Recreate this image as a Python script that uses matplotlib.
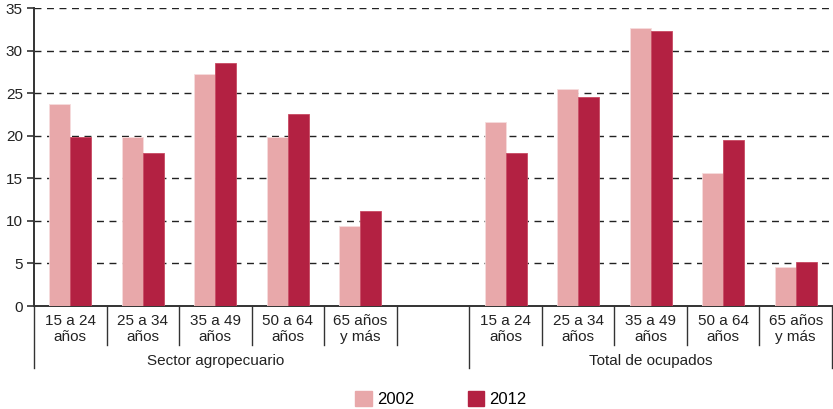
import matplotlib
matplotlib.use('Agg')
import matplotlib.pyplot as plt
import matplotlib.transforms as mtransforms
from matplotlib.patches import Patch

plt.rcParams['font.family'] = ['Liberation Sans Narrow', 'Liberation Sans', 'DejaVu Sans']

categorias = ['15 a 24\naños', '25 a 34\naños', '35 a 49\naños', '50 a 64\naños', '65 años\ny más']
grupos = ['Sector agropecuario', 'Total de ocupados']
agro_2002 = [23.7, 19.8, 27.3, 19.8, 9.4]
agro_2012 = [19.8, 18.0, 28.5, 22.5, 11.2]
total_2002 = [21.6, 25.5, 32.6, 15.6, 4.6]
total_2012 = [18.0, 24.6, 32.3, 19.5, 5.2]

c2002 = '#E8A8AA'
c2012 = '#B32142'
gris = '#333333'

fig = plt.figure(figsize=(8.33, 4.09), dpi=100)
ax = fig.add_axes([34 / 833, 103 / 409, 798 / 833, 298 / 409])

w = 0.29
slots = list(range(5)) + list(range(6, 11))
v2002 = agro_2002 + total_2002
v2012 = agro_2012 + total_2012
xs = [s + 0.5 for s in slots]
ax.bar([x - w / 2 for x in xs], v2002, width=w, color=c2002, edgecolor='#f6dcdd', linewidth=0.6, zorder=3)
ax.bar([x + w / 2 for x in xs], v2012, width=w, color=c2012, edgecolor='#c84a62', linewidth=0.6, zorder=3)

ax.set_xlim(0, 11)
ax.set_ylim(0, 35)
ax.set_yticks(range(0, 36, 5))
ax.tick_params(axis='y', length=5, width=1.2, color=gris, labelsize=11, labelcolor='#222222', pad=3)
ax.set_xticks([])
for y in range(5, 36, 5):
    ax.axhline(y, color='#222222', lw=1, ls=(0, (5, 4)), zorder=1)
for s in ['top', 'right']:
    ax.spines[s].set_visible(False)
ax.spines['left'].set_color(gris)
ax.spines['left'].set_linewidth(1.4)
ax.spines['bottom'].set_color(gris)
ax.spines['bottom'].set_linewidth(1.4)

tr = mtransforms.blended_transform_factory(ax.transData, fig.transFigure)
y0 = 103 / 409
# separadores de categorias
for s in range(12):
    ybot = (409 - 345) / 409
    if s in (0, 6, 11):
        ybot = (409 - 368) / 409
    ax.plot([s, s], [y0, ybot], color=gris, lw=1, transform=tr, clip_on=False)

for i, s in enumerate(slots):
    ax.text(s + 0.5, (409 - 329) / 409, categorias[i % 5], transform=tr, ha='center', va='center',
            fontsize=11, color='#222222', linespacing=1.2)

ax.text(2.5, (409 - 361) / 409, grupos[0], transform=tr, ha='center', va='center', fontsize=11, color='#222222')
ax.text(8.5, (409 - 361) / 409, grupos[1], transform=tr, ha='center', va='center', fontsize=11, color='#222222')

handles = [Patch(color=c2002, label='2002'), Patch(color=c2012, label='2012')]
fig.legend(handles=handles, loc='center', bbox_to_anchor=(441 / 833, (409 - 399) / 409), ncol=2,
           frameon=False, fontsize=12, handlelength=1.0, handleheight=1.0, columnspacing=3.2,
           handletextpad=0.3)

fig.savefig('out.png', dpi=100)
